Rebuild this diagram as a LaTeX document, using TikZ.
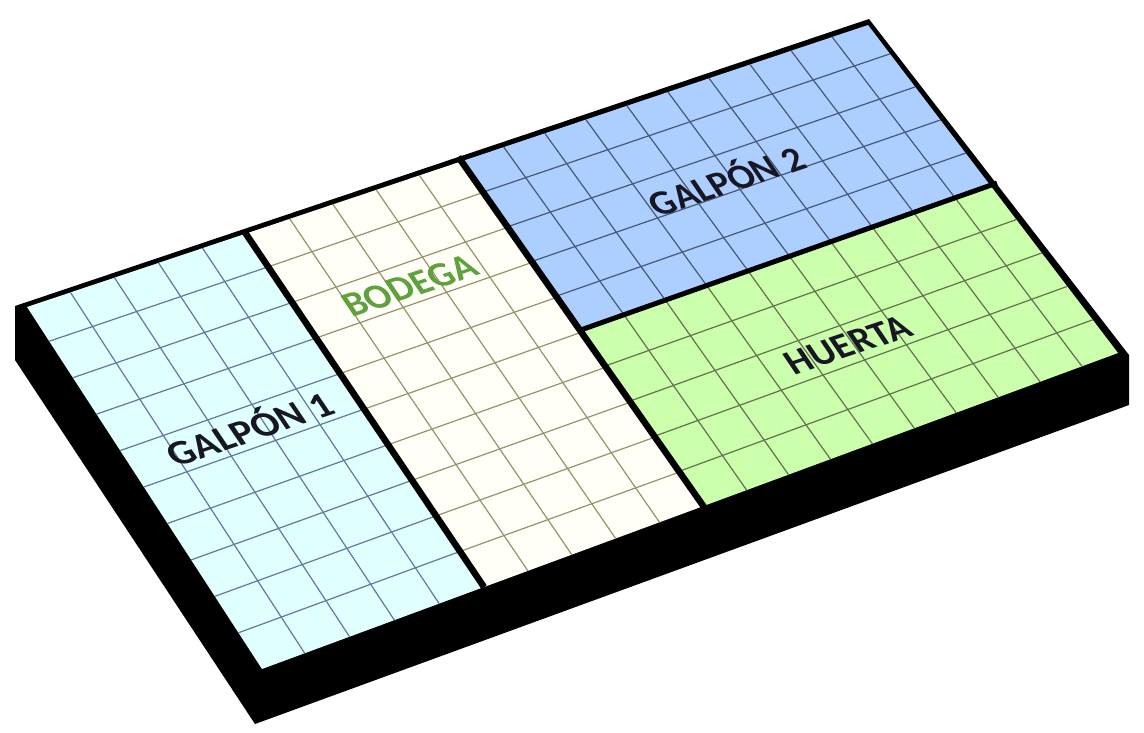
\documentclass[tikz,border=0pt]{standalone}
\usepackage{fontspec}
\setmainfont{Carlito}
\usetikzlibrary{calc}
\definecolor{galponone}{rgb}{0.88, 1.0, 1.0}
\definecolor{bodegafill}{rgb}{1.0, 1.0, 0.97}
\definecolor{galpontwo}{rgb}{0.68, 0.81, 1.0}
\definecolor{huertafill}{rgb}{0.8, 1.0, 0.67}
\definecolor{gridone}{rgb}{0.40, 0.47, 0.60}
\definecolor{gridbodega}{rgb}{0.60, 0.57, 0.42}
\definecolor{gridtwo}{rgb}{0.28, 0.34, 0.48}
\definecolor{gridhuerta}{rgb}{0.38, 0.45, 0.30}
\definecolor{bodegatext}{rgb}{0.37, 0.63, 0.24}
\definecolor{labeltext}{rgb}{0.09, 0.09, 0.14}

\begin{document}
\begin{tikzpicture}[
  x=1pt,
  y=-1pt,
  grid line/.style={
    line width=1.2pt
  },
  divider/.style={
    draw=black,
    line width=6.5pt
  },
  zone label/.style={
    font=\bfseries\fontsize{38}{38}\selectfont,
    color=labeltext,
    inner sep=0pt,
    cm={0.995,0.333,-0.56,0.83,(0,0)}
  }
]
\useasboundingbox (0,0) rectangle (1144,732);

% body
\fill[black] (15,306) -- (869,19) -- (1129,355) -- (1129,405) -- (255,724) -- (15,360) -- cycle;

% corners of the zones
\coordinate (g1a) at (25,305);
\coordinate (g1b) at (245,231);
\coordinate (g1c) at (484,587);
\coordinate (g1d) at (260,670);

\coordinate (boa) at (245,231);
\coordinate (bob) at (460,157);
\coordinate (boc) at (704,507);
\coordinate (bod) at (484,587);

\coordinate (g2a) at (460,157);
\coordinate (g2b) at (870,19);
\coordinate (g2c) at (997,184);
\coordinate (g2d) at (583,330);

\coordinate (hua) at (583,330);
\coordinate (hub) at (997,184);
\coordinate (huc) at (1124,351);
\coordinate (hud) at (705,506);

% zones and their grids
\begin{scope}
\clip (27,307) -- (868,25) -- (1118,353) -- (262,669) -- cycle;
\foreach \z/\fillcol/\gridcol/\cols/\rows in {
  g1/galponone/gridone/5/10,
  bo/bodegafill/gridbodega/5/10,
  g2/galpontwo/gridtwo/10/5,
  hu/huertafill/gridhuerta/10/5%
}{
  \fill[\fillcol] (\z a) -- (\z b) -- (\z c) -- (\z d) -- cycle;
  \foreach \i in {1,...,\cols}{
    \ifnum\i<\cols
      \draw[grid line, \gridcol] ($(\z a)!{\i/\cols}!(\z b)$) -- ($(\z d)!{\i/\cols}!(\z c)$);
    \fi
  }
  \foreach \j in {1,...,\rows}{
    \ifnum\j<\rows
      \draw[grid line, \gridcol] ($(\z a)!{\j/\rows}!(\z d)$) -- ($(\z b)!{\j/\rows}!(\z c)$);
    \fi
  }
}
\end{scope}

% thick lines between the zones
\coordinate (div1a) at (244,231);
\coordinate (div1b) at (484,587);
\coordinate (div2a) at (458.4,157);
\coordinate (div2b) at (704,507);
\coordinate (div3a) at (579,330.6);
\coordinate (div3b) at (997,183);
\draw[divider] (div1a) -- (div1b);
\draw[divider] (div2a) -- (div2b);
\draw[divider, line width=5pt] (div3a) -- (div3b);

\node (galpon1) [zone label] at (248,427) {GALPÓN 1};
\node (bodega) [zone label, color=bodegatext, xscale=0.95] at (410,286) {BODEGA};
\node (galpon2) [zone label, xscale=0.93] at (725,179) {GALPÓN 2};
\node (huerta) [zone label, xscale=0.95] at (848,345) {HUERTA};

\end{tikzpicture}
\end{document}
